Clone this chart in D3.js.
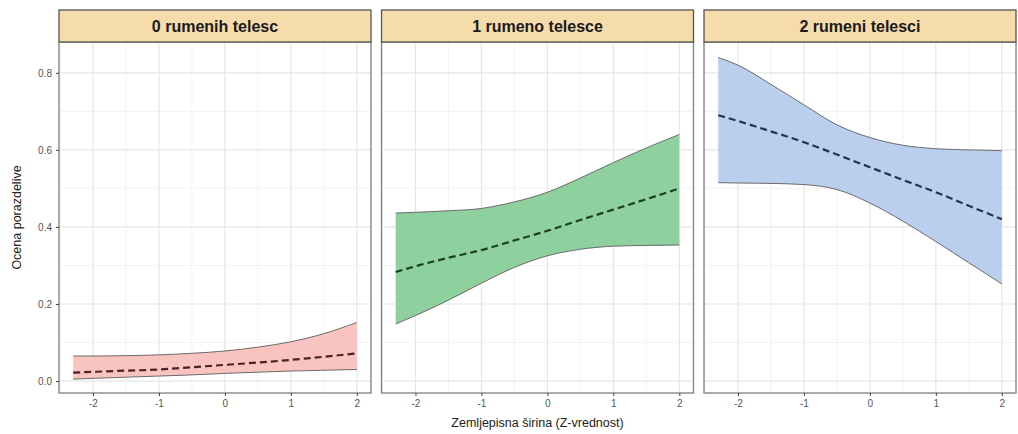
<!DOCTYPE html>
<html>
<head>
<meta charset="utf-8">
<script src="https://cdn.jsdelivr.net/npm/d3@7"></script>
<style>
  body { margin: 0; background: #fff; }
  svg { font-family: "Liberation Sans", Arial, sans-serif; }
  .tick text { fill: #555; font-size: 10px; }
  .tick line { stroke: #444; }
</style>
</head>
<body>
<div id="chart"></div>
<script>
// data
var zValues = [-2.3, -2, -1.5, -1, -0.5, 0, 0.5, 1, 1.5, 2];
var panelTitles = ["0 rumenih telesc", "1 rumeno telesce", "2 rumeni telesci"];

var upper0 = [0.065, 0.065, 0.066, 0.068, 0.072, 0.078, 0.088, 0.102, 0.123, 0.152];
var lower0 = [0.005, 0.007, 0.010, 0.013, 0.016, 0.020, 0.023, 0.026, 0.028, 0.030];
var mean0  = [0.022, 0.024, 0.027, 0.030, 0.036, 0.042, 0.048, 0.055, 0.063, 0.072];

var upper1 = [0.436, 0.438, 0.442, 0.448, 0.465, 0.490, 0.527, 0.567, 0.605, 0.640];
var lower1 = [0.148, 0.170, 0.210, 0.254, 0.295, 0.325, 0.342, 0.350, 0.352, 0.353];
var mean1  = [0.283, 0.298, 0.320, 0.340, 0.365, 0.390, 0.418, 0.445, 0.472, 0.500];

var upper2 = [0.840, 0.820, 0.770, 0.717, 0.665, 0.632, 0.612, 0.603, 0.600, 0.598];
var lower2 = [0.515, 0.514, 0.513, 0.510, 0.497, 0.462, 0.415, 0.362, 0.307, 0.252];
var mean2  = [0.690, 0.675, 0.648, 0.620, 0.588, 0.555, 0.522, 0.490, 0.455, 0.420];

var xTicks = [-2, -1, 0, 1, 2];
var yTicks = [0, 0.2, 0.4, 0.6, 0.8];

var fills = ["#f9c4c0", "#8fd09f", "#bacfee"];
var meanColors = ["#4a2424", "#1c3f28", "#28344c"];

var panels = [
    { title: panelTitles[0], upper: upper0, lower: lower0, mean: mean0 },
    { title: panelTitles[1], upper: upper1, lower: lower1, mean: mean1 },
    { title: panelTitles[2], upper: upper2, lower: lower2, mean: mean2 }
];

// dimensions
var width = 1018, height = 434;
var left = 59, panelW = 312, gap = 10.5;
var stripTop = 10, stripH = 32, plotTop = 42, plotBottom = 393;

var svg = d3.select("#chart")
    .append("svg")
    .attr("width", width)
    .attr("height", height);

var x = d3.scaleLinear().domain([-2.515, 2.215]).range([0, panelW]);
var y = d3.scaleLinear().domain([-0.031, 0.88]).range([plotBottom, plotTop]);

panels.forEach(function (p, i) {
    var g = svg.append("g")
        .attr("transform", "translate(" + (left + i * (panelW + gap)) + ",0)");

    var rows = zValues.map(function (z, k) {
        return { z: z, lo: p.lower[k], hi: p.upper[k], m: p.mean[k] };
    });

    // minor grid
    var minorX = [-2.5, -1.5, -0.5, 0.5, 1.5];
    var minorY = [0.1, 0.3, 0.5, 0.7];
    g.selectAll(".minorx").data(minorX).enter().append("line")
        .attr("x1", function (d) { return x(d); }).attr("x2", function (d) { return x(d); })
        .attr("y1", plotTop).attr("y2", plotBottom)
        .attr("stroke", "#f3f3f3").attr("stroke-width", 1);
    g.selectAll(".minory").data(minorY).enter().append("line")
        .attr("x1", 0).attr("x2", panelW)
        .attr("y1", function (d) { return y(d); }).attr("y2", function (d) { return y(d); })
        .attr("stroke", "#f3f3f3").attr("stroke-width", 1);

    // major grid
    g.selectAll(".majorx").data(xTicks).enter().append("line")
        .attr("x1", function (d) { return x(d); }).attr("x2", function (d) { return x(d); })
        .attr("y1", plotTop).attr("y2", plotBottom)
        .attr("stroke", "#e6e6e6").attr("stroke-width", 1.2);
    g.selectAll(".majory").data(yTicks).enter().append("line")
        .attr("x1", 0).attr("x2", panelW)
        .attr("y1", function (d) { return y(d); }).attr("y2", function (d) { return y(d); })
        .attr("stroke", "#e6e6e6").attr("stroke-width", 1.2);

    // ribbon
    var area = d3.area()
        .x(function (d) { return x(d.z); })
        .y0(function (d) { return y(d.lo); })
        .y1(function (d) { return y(d.hi); })
        .curve(d3.curveMonotoneX);
    g.append("path").datum(rows)
        .attr("d", area)
        .attr("fill", fills[i]);

    var lineHi = d3.line().x(function (d) { return x(d.z); }).y(function (d) { return y(d.hi); }).curve(d3.curveMonotoneX);
    var lineLo = d3.line().x(function (d) { return x(d.z); }).y(function (d) { return y(d.lo); }).curve(d3.curveMonotoneX);
    var lineM = d3.line().x(function (d) { return x(d.z); }).y(function (d) { return y(d.m); }).curve(d3.curveMonotoneX);

    [lineHi, lineLo].forEach(function (ln) {
        g.append("path").datum(rows)
            .attr("d", ln)
            .attr("fill", "none")
            .attr("stroke", "#6b6b6b")
            .attr("stroke-width", 1);
    });

    g.append("path").datum(rows)
        .attr("d", lineM)
        .attr("fill", "none")
        .attr("stroke", meanColors[i])
        .attr("stroke-width", 2.2)
        .attr("stroke-dasharray", "7,4");

    // panel border
    g.append("rect")
        .attr("x", 0).attr("y", plotTop)
        .attr("width", panelW).attr("height", plotBottom - plotTop)
        .attr("fill", "none").attr("stroke", "#7f7f7f").attr("stroke-width", 1.3);

    // strip
    g.append("rect")
        .attr("x", 0).attr("y", stripTop)
        .attr("width", panelW).attr("height", stripH)
        .attr("fill", "#f5dcaa").attr("stroke", "#555").attr("stroke-width", 1.3);
    g.append("text")
        .attr("x", panelW / 2).attr("y", stripTop + stripH / 2 + 5.5)
        .attr("text-anchor", "middle")
        .style("font-size", "16px").style("font-weight", "bold").style("fill", "#1a1a1a")
        .text(p.title);

    // x axis
    var xa = g.append("g")
        .attr("transform", "translate(0," + plotBottom + ")")
        .call(d3.axisBottom(x).tickValues(xTicks).tickSize(3).tickPadding(4)
            .tickFormat(function (d) { return d; }));
    xa.select(".domain").remove();

    // y axis only on first panel
    if (i === 0) {
        var ya = g.append("g")
            .call(d3.axisLeft(y).tickValues(yTicks).tickSize(3).tickPadding(4)
                .tickFormat(d3.format(".1f")));
        ya.select(".domain").remove();
    }
});

// axis titles
svg.append("text")
    .attr("x", left + (3 * panelW + 2 * gap) / 2)
    .attr("y", 427)
    .attr("text-anchor", "middle")
    .style("font-size", "12.5px").style("fill", "#222")
    .text("Zemljepisna širina (Z-vrednost)");

svg.append("text")
    .attr("transform", "translate(21," + ((plotTop + plotBottom) / 2) + ") rotate(-90)")
    .attr("text-anchor", "middle")
    .style("font-size", "12.5px").style("fill", "#222")
    .text("Ocena porazdelive");
</script>
</body>
</html>
